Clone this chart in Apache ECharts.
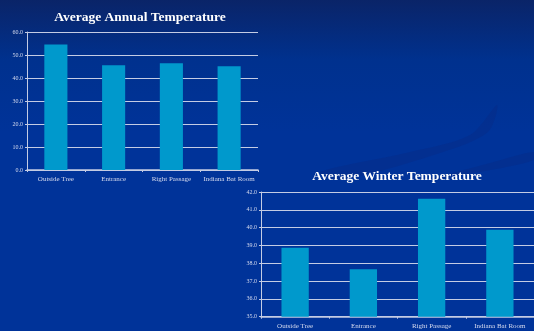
<!DOCTYPE html>
<html><head><meta charset="utf-8">
<script src="https://cdn.jsdelivr.net/npm/echarts@6/dist/echarts.min.js"></script>
<style>html,body{margin:0;padding:0;}#c{width:534px;height:331px;}</style>
</head><body><div id="c"></div>
<script>
const categories = ["Outside Tree", "Entrance", "Right Passage", "Indiana Bat Room"];
const annualValues = [54.6, 45.5, 46.4, 45.1];
const winterValues = [38.87, 37.66, 41.62, 39.88];
const annualTitle = "Average Annual Temperature";
const winterTitle = "Average Winter Temperature";

const chart = echarts.init(document.getElementById('c'), null, {renderer: 'canvas'});
const font = "'Liberation Serif', 'DejaVu Serif', serif";
const gridColor = '#c4cce4';
const labelColor = '#d4daee';
const barColor = '#0099cc';

function xAx(gi) {
  return {
    type: 'category', gridIndex: gi, data: categories,
    axisLine: {lineStyle: {color: '#c4cce4', width: 1.5}},
    axisTick: {show: true, length: 2, lineStyle: {color: '#c4cce4'}},
    axisLabel: {color: labelColor, fontFamily: font, fontSize: 7, margin: 6, interval: 0}
  };
}
function yAx(gi, min, max, interval) {
  return {
    type: 'value', gridIndex: gi, min: min, max: max, interval: interval,
    axisLine: {show: true, lineStyle: {color: '#c4cce4'}},
    axisTick: {show: true, length: 2, lineStyle: {color: '#c4cce4'}},
    splitLine: {show: true, lineStyle: {color: gridColor, width: 1}},
    axisLabel: {color: labelColor, fontFamily: font, fontSize: 6, margin: 4,
      formatter: v => v.toFixed(1)}
  };
}

chart.setOption({
  animation: false,
  backgroundColor: {
    type: 'linear', x: 0, y: 0, x2: 0, y2: 1,
    colorStops: [
      {offset: 0, color: '#0a2468'},
      {offset: 0.18, color: '#00318e'},
      {offset: 0.4, color: '#003399'},
      {offset: 1, color: '#003399'}
    ]
  },
  graphic: [
    {type: 'polygon', silent: true, z: -10,
      shape: {points: [[320, 172], [410, 152], [470, 135], [497, 105], [488, 132], [440, 153], [340, 180]], smooth: 0.3},
      style: {fill: 'rgba(10,40,130,0.35)'}},
    {type: 'polygon', silent: true, z: -10,
      shape: {points: [[430, 180], [490, 163], [534, 152], [534, 160], [480, 172]], smooth: 0.3},
      style: {fill: 'rgba(10,40,130,0.35)'}}
  ],
  title: [
    {text: annualTitle, left: 135, top: 6, textAlign: 'center',
      textStyle: {color: '#ffffff', fontFamily: font, fontWeight: 'bold', fontSize: 13.5}},
    {text: winterTitle, left: 392, top: 165, textAlign: 'center',
      textStyle: {color: '#ffffff', fontFamily: font, fontWeight: 'bold', fontSize: 13.5}}
  ],
  grid: [
    {left: 27, top: 32, width: 231, height: 138, containLabel: false},
    {left: 261, top: 192, width: 276.5, height: 124.7, containLabel: false}
  ],
  xAxis: [xAx(0), xAx(1)],
  yAxis: [yAx(0, 0, 60, 10), yAx(1, 35, 42, 1)],
  series: [
    {type: 'bar', xAxisIndex: 0, yAxisIndex: 0, data: annualValues, barWidth: '40%',
      itemStyle: {color: barColor}},
    {type: 'bar', xAxisIndex: 1, yAxisIndex: 1, data: winterValues, barWidth: '40%',
      itemStyle: {color: barColor}}
  ]
});
</script></body></html>
